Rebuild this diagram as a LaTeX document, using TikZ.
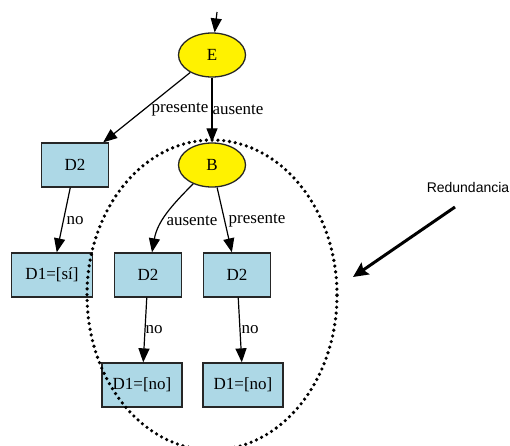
\documentclass[tikz,border=0pt]{standalone}
\usepackage{fontspec}
\setmainfont{Liberation Serif}
\newfontfamily\labelsans{Liberation Sans}
\usetikzlibrary{arrows.meta,shapes.geometric}
\definecolor{boxblue}{RGB}{173,216,230}
\tikzset{
  headtip/.tip={Triangle[length=14pt,width=11pt]},
}
\begin{document}
\begin{tikzpicture}[x=1pt,y=1pt,
  every node/.style={font=\fontsize{17}{20}\selectfont},
  decision/.style={ellipse,draw=black!85,line width=1.3pt,fill=yellow,minimum width=67pt,minimum height=44pt,inner sep=0pt},
  leafbox/.style={rectangle,draw=black!85,line width=1.3pt,fill=boxblue,minimum height=44pt,inner sep=0pt},
  flow/.style={draw=black,line width=1.2pt,-headtip},
  elabel/.style={inner sep=0pt},
  group/.style={draw=black,line width=3.6pt,line cap=round,dash pattern=on 0pt off 5.8pt},
  note/.style={font=\labelsans\fontsize{14}{16}\selectfont,inner sep=0pt}]
\useasboundingbox (0,0) rectangle (510,-445);

% decision nodes
\node[decision] (E) at (212,-55) {E};
\node[decision] (B) at (212,-165) {B};

% boxes
\node[leafbox,minimum width=67pt] (D2l) at (75,-165) {D2};
\node[leafbox,minimum width=81pt] (D1si) at (52,-275) {D1=[sí]};
\node[leafbox,minimum width=67pt] (D2m) at (148,-275) {D2};
\node[leafbox,minimum width=67pt] (D2r) at (237,-275) {D2};
\node[leafbox,minimum width=80pt] (D1nol) at (142,-385) {D1=[no]};
\node[leafbox,minimum width=80pt] (D1nor) at (243,-385) {D1=[no]};

% entry arrow
\coordinate (entry) at (217,-12);
\draw[flow] (entry) -- (E);

% connectors
\draw[flow] (E) -- (D2l);
\draw[flow] (E) -- (B);
\draw[flow] (D2l) -- (D1si);
\draw[flow] (B) to[out=-135,in=80] (D2m);
\draw[flow] (B) -- (D2r);
\draw[flow] (D2m) -- (D1nol);
\draw[flow] (D2r) -- (D1nor);

% connector labels
\node[elabel] (lp1) at (180,-110) {presente};
\node[elabel] (la1) at (238,-110) {ausente};
\node[elabel] (ln1) at (75,-221) {no};
\node[elabel] (la2) at (192,-221) {ausente};
\node[elabel] (lp2) at (257,-221) {presente};
\node[elabel] (ln2) at (154,-330) {no};
\node[elabel] (ln3) at (250,-330) {no};

% dotted grouping around the repeated subtree
\draw[group] (212,-295) ellipse [x radius=125, y radius=155];

% annotation
\node[note] (red) at (468,-187) {Redundancia};
\coordinate (rs) at (455,-207);
\coordinate (rt) at (353,-277);
\draw[line width=3pt,-{Stealth[length=15pt,width=14pt,inset=2.5pt]}] (rs) -- (rt);
\end{tikzpicture}
\end{document}
